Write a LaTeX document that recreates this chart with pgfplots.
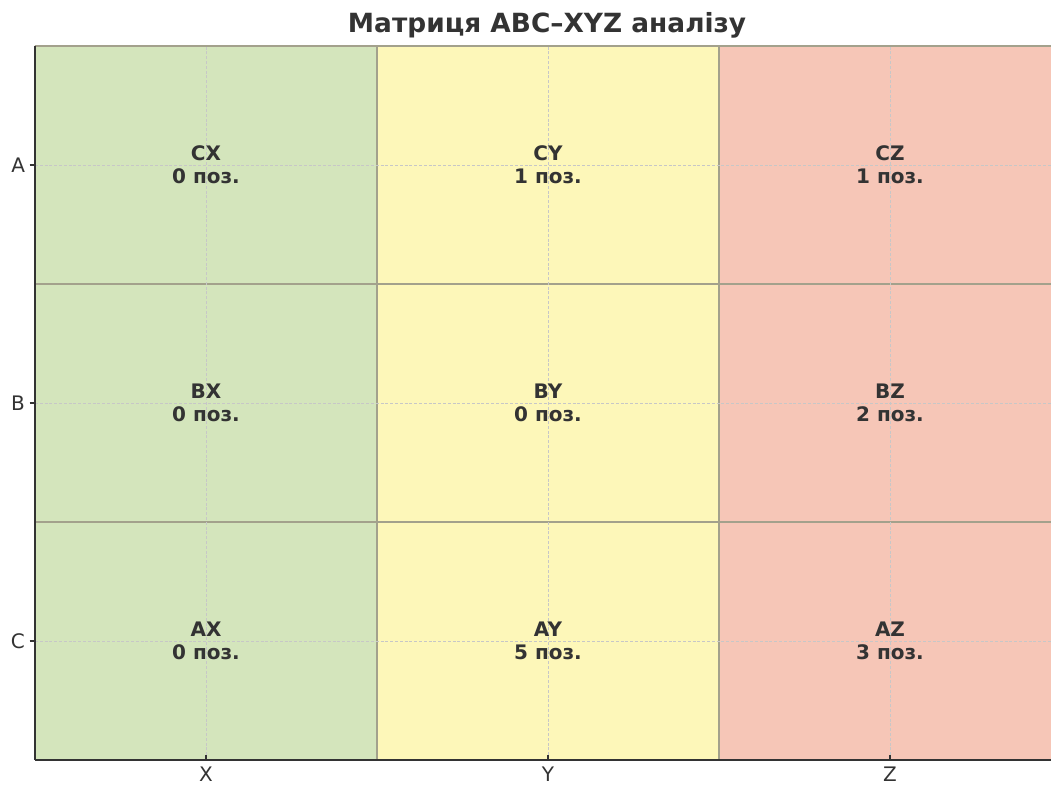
\documentclass[border=0pt]{standalone}
\usepackage{pgfplots}
\pgfplotsset{compat=1.18}
\usepackage{fontspec}
\setmainfont{DejaVu Sans}
\definecolor{cgreen}{HTML}{D4E5BC}
\definecolor{cyellow}{HTML}{FDF7B9}
\definecolor{cred}{HTML}{F6C6B7}
\definecolor{cedge}{HTML}{A3A18C}
\definecolor{ctext}{HTML}{333333}
\begin{document}
\begin{tikzpicture}
\path[use as bounding box] (0,0) rectangle (788.25pt,588.75pt);
\begin{axis}[
  at={(26.25pt,18.75pt)}, anchor=south west,
  scale only axis, width=762pt, height=535.5pt,
  xmin=-0.5, xmax=2.4708, ymin=-0.5, ymax=2.5,
  xtick={0,1,2}, xticklabels={X,Y,Z},
  ytick={0,1,2}, yticklabels={C,B,A},
  axis lines*=left,
  axis line style={-, line width=1.1pt, ctext},
  tick style={ctext, line width=0.8pt},
  major tick length=4pt,
  tick align=outside,
  x tick style={yshift=4pt},
  tick label style={font=\fontsize{15}{18}\selectfont, text=ctext},
  xticklabel style={yshift=0pt, inner sep=1pt},
  grid=major,
  major grid style={dash pattern=on 2.2pt off 1.4pt, black!22, line width=0.6pt, yshift=0pt},
  axis on top,
  clip=true,
  title={\bfseries Матриця ABC–XYZ аналізу},
  title style={at={(0.504,1)}, anchor=base, yshift=4pt, font=\fontsize{19.8}{23}\selectfont, text=ctext},
]
% column X (green)
\addplot[fill=cgreen, draw=cedge, line width=0.8pt] coordinates {(-0.5,-0.5) (0.5,-0.5) (0.5,0.5) (-0.5,0.5)} -- cycle;
\addplot[fill=cgreen, draw=cedge, line width=0.8pt] coordinates {(-0.5,0.5) (0.5,0.5) (0.5,1.5) (-0.5,1.5)} -- cycle;
\addplot[fill=cgreen, draw=cedge, line width=0.8pt] coordinates {(-0.5,1.5) (0.5,1.5) (0.5,2.5) (-0.5,2.5)} -- cycle;
% column Y (yellow)
\addplot[fill=cyellow, draw=cedge, line width=0.8pt] coordinates {(0.5,-0.5) (1.5,-0.5) (1.5,0.5) (0.5,0.5)} -- cycle;
\addplot[fill=cyellow, draw=cedge, line width=0.8pt] coordinates {(0.5,0.5) (1.5,0.5) (1.5,1.5) (0.5,1.5)} -- cycle;
\addplot[fill=cyellow, draw=cedge, line width=0.8pt] coordinates {(0.5,1.5) (1.5,1.5) (1.5,2.5) (0.5,2.5)} -- cycle;
% column Z (red)
\addplot[fill=cred, draw=cedge, line width=0.8pt] coordinates {(1.5,-0.5) (2.5,-0.5) (2.5,0.5) (1.5,0.5)} -- cycle;
\addplot[fill=cred, draw=cedge, line width=0.8pt] coordinates {(1.5,0.5) (2.5,0.5) (2.5,1.5) (1.5,1.5)} -- cycle;
\addplot[fill=cred, draw=cedge, line width=0.8pt] coordinates {(1.5,1.5) (2.5,1.5) (2.5,2.5) (1.5,2.5)} -- cycle;
% labels
\addplot[only marks, mark=none, point meta=explicit symbolic,
  nodes near coords={\pgfplotspointmeta},
  nodes near coords style={font=\fontsize{15}{17.5}\selectfont\bfseries, text=ctext, align=center, anchor=center}]
coordinates {
  (0,2) [CX\\0 поз.]
  (1,2) [CY\\1 поз.]
  (2,2) [CZ\\1 поз.]
  (0,1) [BX\\0 поз.]
  (1,1) [BY\\0 поз.]
  (2,1) [BZ\\2 поз.]
  (0,0) [AX\\0 поз.]
  (1,0) [AY\\5 поз.]
  (2,0) [AZ\\3 поз.]
};
\end{axis}
\end{tikzpicture}
\end{document}
